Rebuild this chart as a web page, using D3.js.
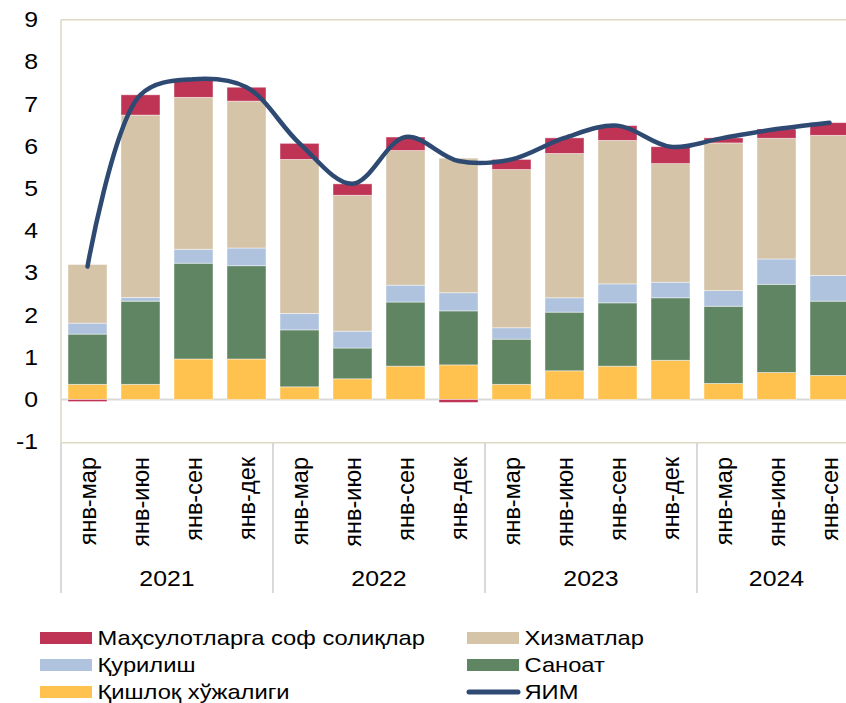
<!DOCTYPE html>
<html>
<head>
<meta charset="utf-8">
<script src="https://cdn.jsdelivr.net/npm/d3@7"></script>
<style>
  body { margin: 0; background: #fff; }
  svg text { font-family: Arial, "Liberation Sans", sans-serif; fill: #000; }
</style>
</head>
<body>
<svg id="chart" width="846" height="703"></svg>
<script>
// quarters and years along the bottom
var periods = ["янв-мар", "янв-июн", "янв-сен", "янв-дек",
               "янв-мар", "янв-июн", "янв-сен", "янв-дек",
               "янв-мар", "янв-июн", "янв-сен", "янв-дек",
               "янв-мар", "янв-июн", "янв-сен"];
var years = ["2021", "2022", "2023", "2024"];
var yearSpan = [4, 4, 4, 3];

// contributions, percentage points
var agriculture  = [0.36, 0.36, 0.96, 0.96, 0.30, 0.49, 0.79, 0.82, 0.36, 0.68, 0.79, 0.93, 0.38, 0.64, 0.57];
var industry     = [1.19, 1.97, 2.27, 2.21, 1.35, 0.73, 1.52, 1.28, 1.07, 1.39, 1.50, 1.48, 1.83, 2.09, 1.76];
var construction = [0.26, 0.09, 0.33, 0.42, 0.39, 0.40, 0.40, 0.43, 0.27, 0.34, 0.45, 0.37, 0.37, 0.60, 0.61];
var services     = [1.39, 4.32, 3.60, 3.48, 3.65, 3.22, 3.19, 3.19, 3.75, 3.42, 3.40, 2.81, 3.50, 2.86, 3.32];
var netTaxes     = [-0.05, 0.48, 0.43, 0.33, 0.38, 0.27, 0.32, -0.07, 0.24, 0.37, 0.35, 0.40, 0.12, 0.22, 0.30];
var gdp          = [3.15, 7.22, 7.59, 7.40, 6.07, 5.11, 6.22, 5.65, 5.69, 6.20, 6.49, 5.99, 6.20, 6.41, 6.56];

var yTicks = [-1, 0, 1, 2, 3, 4, 5, 6, 7, 8, 9];

var seriesNames = {
  agri: "Қишлоқ хўжалиги",
  ind: "Саноат",
  cons: "Қурилиш",
  serv: "Хизматлар",
  tax: "Маҳсулотларга соф солиқлар",
  gdp: "ЯИМ"
};
var colors = {
  agri: "#FFC24F", ind: "#5F8563", cons: "#AFC3DE",
  serv: "#D5C4A8", tax: "#BF3454", gdp: "#2E4A72"
};

var svg = d3.select("#chart");
var plotLeft = 61, plotRight = 856, plotTop = 19.7, plotBottom = 441.7;
var stretch = 1.13; // the reference text is a little wide

var rows = periods.map(function (p, i) {
  return { i: i, agri: agriculture[i], ind: industry[i], cons: construction[i], serv: services[i], tax: netTaxes[i] };
});

var x = d3.scaleBand().domain(d3.range(periods.length)).range([plotLeft, plotRight])
  .paddingInner(14 / 53).paddingOuter(7 / 53);
var y = d3.scaleLinear().domain([-1, 9]).range([plotBottom, plotTop]);

// plot frame
svg.append("line").attr("x1", plotLeft).attr("x2", 846).attr("y1", y(9)).attr("y2", y(9))
  .style("stroke", "#DDD9C3").style("stroke-width", 1.5);
svg.append("line").attr("x1", plotLeft).attr("x2", 846).attr("y1", plotBottom + 1).attr("y2", plotBottom + 1)
  .style("stroke", "#DDD9C3").style("stroke-width", 1.5);
svg.append("line").attr("x1", plotLeft).attr("x2", plotLeft).attr("y1", y(9)).attr("y2", plotBottom + 1)
  .style("stroke", "#DDD9C3").style("stroke-width", 1.5);

// zero line
svg.append("line").attr("x1", plotLeft).attr("x2", 846).attr("y1", y(0)).attr("y2", y(0))
  .style("stroke", "#D9D9D9").style("stroke-width", 2);

// y axis labels
var leftAxis = d3.axisLeft(y).tickValues(yTicks).tickSize(0).tickPadding(0)
  .tickFormat(function (d) { return String(d); });
var ga = svg.append("g").attr("transform", "translate(38,0) scale(" + stretch + ",1)").call(leftAxis);
ga.select(".domain").remove();
ga.selectAll("text").style("font-size", "22px").style("font-family", "Arial, 'Liberation Sans', sans-serif").attr("fill", "#000");

// stacked bars
var keys = ["agri", "ind", "cons", "serv", "tax"];
var stacked = d3.stack().keys(keys).offset(d3.stackOffsetDiverging)(rows);

svg.append("g").selectAll("g").data(stacked).enter().append("g")
  .style("fill", function (s) { return colors[s.key]; })
  .selectAll("rect").data(function (s) { return s; }).enter().append("rect")
  .attr("x", function (d) { return x(d.data.i); })
  .attr("width", x.bandwidth())
  .attr("y", function (d) { return y(Math.max(d[0], d[1])); })
  .attr("height", function (d) { return Math.abs(y(d[0]) - y(d[1])); })
  .style("stroke", "rgba(255,255,255,0.55)").style("stroke-width", 0.8);

// GDP line
var line = d3.line()
  .x(function (d, i) { return x(i) + x.bandwidth() / 2; })
  .y(function (d) { return y(d); })
  .curve(d3.curveCatmullRom.alpha(0.5));
svg.append("path").datum(gdp).attr("d", line)
  .style("fill", "none").style("stroke", colors.gdp).style("stroke-width", 4.5)
  .style("stroke-linecap", "round").style("stroke-linejoin", "round");

// category labels
svg.append("g").selectAll("text").data(periods).enter().append("text")
  .attr("transform", function (d, i) { return "translate(" + (x(i) + x.bandwidth() / 2) + ",457) rotate(-90)"; })
  .attr("dy", "0.35em")
  .attr("text-anchor", "end")
  .style("font-size", "23.5px")
  .text(function (d) { return d; });

// year groups
var step = x.step();
var start = 0;
years.forEach(function (yr, k) {
  var x0 = plotLeft + start * step;
  var x1 = plotLeft + (start + yearSpan[k]) * step;
  svg.append("line").attr("x1", x0).attr("x2", x0).attr("y1", plotBottom + 1).attr("y2", 593)
    .style("stroke", "#D9D9D9").style("stroke-width", 2);
  svg.append("text").attr("transform", "translate(" + ((x0 + x1) / 2) + ",586) scale(" + stretch + ",1)")
    .attr("text-anchor", "middle").style("font-size", "22px").text(yr);
  start += yearSpan[k];
});

// legend
var legendItems = [
  { key: "tax", col: 0, row: 0 }, { key: "serv", col: 1, row: 0 },
  { key: "cons", col: 0, row: 1 }, { key: "ind", col: 1, row: 1 },
  { key: "agri", col: 0, row: 2 }, { key: "gdp", col: 1, row: 2 }
];
var legend = svg.append("g");
legendItems.forEach(function (it) {
  var lx = it.col === 0 ? 40 : 467;
  var ly = 638 + it.row * 27;
  if (it.key === "gdp") {
    legend.append("line").attr("x1", lx + 2).attr("x2", lx + 51).attr("y1", ly).attr("y2", ly)
      .style("stroke", colors.gdp).style("stroke-width", 5).style("stroke-linecap", "round");
  } else {
    legend.append("rect").attr("x", lx).attr("y", ly - 6).attr("width", 52).attr("height", 12)
      .style("fill", colors[it.key]);
  }
  legend.append("text").attr("transform", "translate(" + (lx + 57.5) + "," + ly + ") scale(" + stretch + ",1)")
    .attr("dy", "0.35em")
    .style("font-size", "21px").text(seriesNames[it.key]);
});
</script>
</body>
</html>
